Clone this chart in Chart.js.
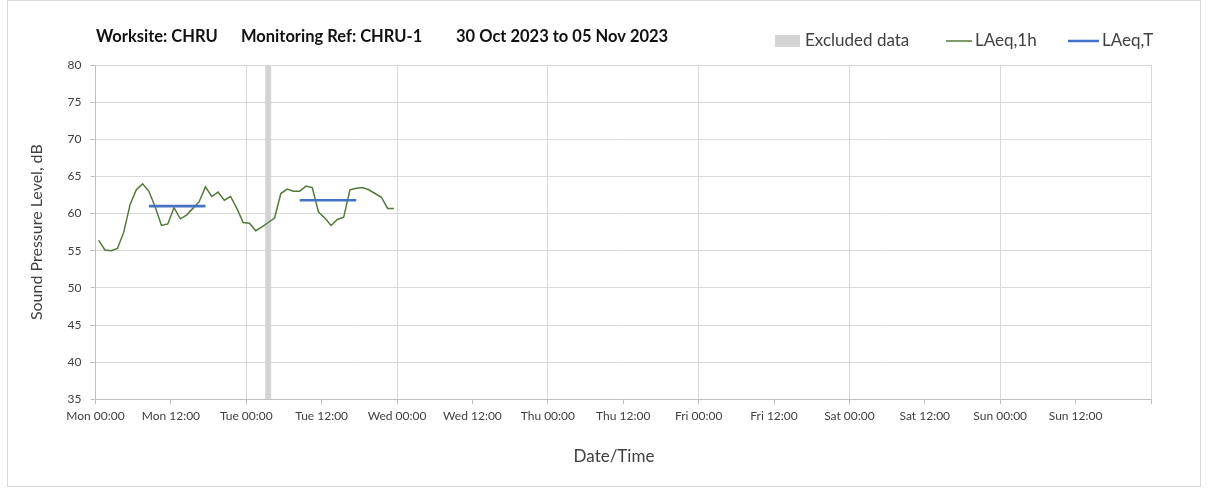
<!DOCTYPE html>
<html>
<head>
<meta charset="utf-8">
<script src="https://cdn.jsdelivr.net/npm/chart.js@4/dist/chart.umd.min.js"></script>
<style>
html,body{margin:0;padding:0;background:#ffffff;}
#wrap{width:1208px;height:492px;position:relative;}
canvas{display:block;}
</style>
</head>
<body>
<div id="wrap"><canvas id="c" width="1208" height="492"></canvas></div>
<script>
// ---- Data ----
const titleParts = ['Worksite: CHRU', 'Monitoring Ref: CHRU-1', '30 Oct 2023 to 05 Nov 2023'];
const xAxisTitle = 'Date/Time';
const yAxisTitle = 'Sound Pressure Level, dB';
const xTickLabels = ['Mon 00:00','Mon 12:00','Tue 00:00','Tue 12:00','Wed 00:00','Wed 12:00','Thu 00:00','Thu 12:00','Fri 00:00','Fri 12:00','Sat 00:00','Sat 12:00','Sun 00:00','Sun 12:00'];
const yTicks = [35, 40, 45, 50, 55, 60, 65, 70, 75, 80];
// hours since Mon 00:00 (mid-hour of each 1h period)
const hourTimes = [0.5,1.5,2.5,3.5,4.5,5.5,6.5,7.5,8.5,9.5,10.5,11.5,12.5,13.5,14.5,15.5,16.5,17.5,18.5,19.5,20.5,21.5,22.5,23.5,
                   24.5,25.5,26.5,27.5,28.5,29.5,30.5,31.5,32.5,33.5,34.5,35.5,36.5,37.5,38.5,39.5,40.5,41.5,42.5,43.5,44.5,45.5,46.5,47.5];
const laeq1hValues = [56.4,55.1,55.0,55.3,57.5,61.2,63.2,64.0,63.0,60.9,58.4,58.6,60.8,59.3,59.8,60.7,61.6,63.6,62.3,62.9,61.8,62.3,60.7,58.8,
                      58.7,57.7,58.2,58.8,59.4,62.7,63.3,63.0,63.0,63.7,63.5,60.2,59.4,58.4,59.2,59.5,63.2,63.4,63.5,63.2,62.7,62.2,60.7,60.7];
const laeqTStart = [8.5, 32.5];
const laeqTEnd = [17.5, 41.5];
const laeqTValues = [61.0, 61.8];
const excludedStart = [27];
const excludedEnd = [28];

// ---- Build datasets ----
const yMin = yTicks[0], yMax = yTicks[yTicks.length - 1];
const laeq1hData = hourTimes.map((t, i) => ({x: t, y: laeq1hValues[i]}));
const laeqTData = [];
laeqTValues.forEach((v, i) => {
  if (i > 0) laeqTData.push({x: (laeqTEnd[i-1] + laeqTStart[i]) / 2, y: null});
  laeqTData.push({x: laeqTStart[i], y: v});
  laeqTData.push({x: laeqTEnd[i], y: v});
});
const excludedData = [];
excludedStart.forEach((s, i) => {
  if (i > 0) excludedData.push({x: (excludedEnd[i-1] + s) / 2, y: null});
  excludedData.push({x: s, y: yMax});
  excludedData.push({x: excludedEnd[i], y: yMax});
});

const BAND = '#d3d3d3';
const GREEN = '#54783a';
const BLUE = '#4472c4';
const TXT = '#404040';
const FONT = 'Lato';

const decor = {
  id: 'decor',
  beforeDraw(chart) {
    const ctx = chart.ctx;
    ctx.save();
    ctx.fillStyle = '#ffffff';
    ctx.fillRect(0, 0, chart.width, chart.height);
    ctx.strokeStyle = '#d9d9d9';
    ctx.lineWidth = 1;
    ctx.strokeRect(7.5, 0.5, 1193, 486);
    ctx.restore();
  },
  afterDraw(chart) {
    const ctx = chart.ctx;
    ctx.save();
    ctx.textBaseline = 'middle';
    ctx.textAlign = 'left';
    ctx.font = 'bold 16.5px ' + FONT;
    ctx.fillStyle = '#111111';
    const tx = [96, 241, 456];
    titleParts.forEach((t, i) => ctx.fillText(t, tx[i], 37));

    // x axis title
    ctx.font = '17px ' + FONT;
    ctx.fillStyle = TXT;
    ctx.textAlign = 'center';
    ctx.fillText(xAxisTitle, 614, 457);
    ctx.textAlign = 'left';

    // legend
    const ds = chart.data.datasets;
    const ly = 41;
    const ex = ds.find(d => d.label === 'Excluded data');
    ctx.fillStyle = ex.backgroundColor;
    ctx.fillRect(775, 35, 25, 12);
    ctx.fillStyle = TXT;
    ctx.fillText(ex.label, 805, ly);
    const g = ds.find(d => d.label === 'LAeq,1h');
    ctx.strokeStyle = g.borderColor; ctx.lineWidth = 1.5;
    ctx.beginPath(); ctx.moveTo(946, ly); ctx.lineTo(972, ly); ctx.stroke();
    ctx.fillText(g.label, 975, ly);
    const b = ds.find(d => d.label === 'LAeq,T');
    ctx.strokeStyle = b.borderColor; ctx.lineWidth = 2.5;
    ctx.beginPath(); ctx.moveTo(1068, ly); ctx.lineTo(1099, ly); ctx.stroke();
    ctx.fillText(b.label, 1102, ly);
    ctx.restore();
  }
};

new Chart(document.getElementById('c'), {
  type: 'line',
  data: {
    datasets: [
      {label: 'LAeq,T', data: laeqTData, borderColor: BLUE, borderWidth: 2.6, pointRadius: 0, spanGaps: false, fill: false, tension: 0, order: 1},
      {label: 'LAeq,1h', data: laeq1hData, borderColor: GREEN, borderWidth: 1.5, pointRadius: 0, fill: false, tension: 0, order: 2},
      {label: 'Excluded data', data: excludedData, borderWidth: 0, borderColor: 'rgba(0,0,0,0)', backgroundColor: BAND, pointRadius: 0, fill: 'start', spanGaps: false, order: 3}
    ]
  },
  options: {
    responsive: false,
    animation: false,
    events: [],
    layout: {padding: {top: 65, right: 57, bottom: 0, left: 0}},
    plugins: {legend: {display: false}, title: {display: false}, tooltip: {enabled: false}},
    scales: {
      x: {
        type: 'linear',
        min: 0, max: 168,
        afterFit(s) { s.height = 92.7; },
        afterBuildTicks(s) { s.ticks = xTickLabels.map((l, i) => ({value: i * 12})).concat([{value: 168}]); },
        ticks: {
          stepSize: 12, autoSkip: false, maxRotation: 0, minRotation: 0, padding: 5,
          color: TXT, font: {family: FONT, size: 12},
          callback: (v) => { const i = Math.round(v / 12); return i < xTickLabels.length ? xTickLabels[i] : ''; }
        },
        grid: {
          color: (c) => (c.tick && c.tick.value % 24 === 0) ? '#d9d9d9' : 'rgba(0,0,0,0)',
          tickColor: '#bfbfbf', tickLength: 5, lineWidth: 1, drawTicks: true
        },
        border: {color: '#bfbfbf', width: 1},
        title: {display: false, text: xAxisTitle}
      },
      y: {
        min: yMin, max: yMax,
        afterFit(s) { s.width = 95.5; },
        ticks: {stepSize: 5, color: TXT, font: {family: FONT, size: 12}, padding: 9},
        grid: {color: '#d9d9d9', tickColor: '#bfbfbf', tickLength: 5, lineWidth: 1},
        border: {color: '#bfbfbf', width: 1},
        title: {display: true, text: yAxisTitle, color: TXT, font: {family: FONT, size: 16}, padding: {top: 27, bottom: 0}}
      }
    }
  },
  plugins: [decor]
});
</script>
</body>
</html>
